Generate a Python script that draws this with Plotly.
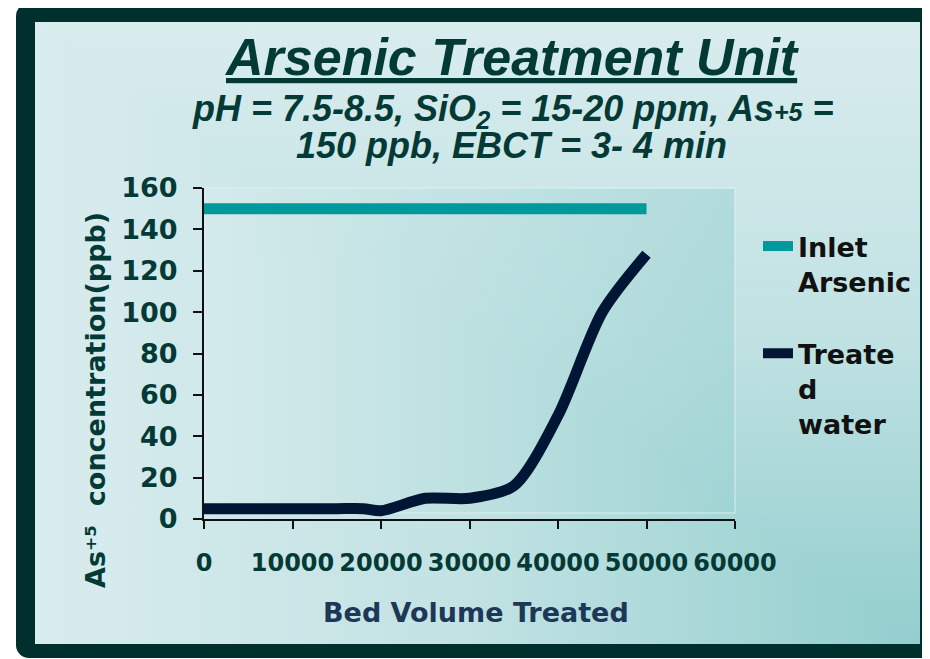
import base64
import plotly.graph_objects as go

# ---------------- data ----------------
bed_volume_inlet = [0, 50000]
inlet_arsenic = [150, 150]

bed_volume_treated = [0, 11000, 15000, 18000, 20000, 25000, 30000, 35000, 40000, 45000, 50000]
treated_water = [5, 5, 5, 5, 4, 10, 10, 16, 50, 100, 128]

x_ticks = [0, 10000, 20000, 30000, 40000, 50000, 60000]
y_ticks = [0, 20, 40, 60, 80, 100, 120, 140, 160]

series_names = ["Inlet<br>Arsenic", "Treate<br>d<br>water"]
title_text = "Arsenic Treatment Unit"
subtitle_1 = ("pH = 7.5-8.5, SiO<sub>2</sub> = 15-20 ppm, "
              "As<span style=\"font-size:25px\">+5</span> =")
subtitle_2 = "150 ppb, EBCT = 3- 4 min"
x_title = "Bed Volume Treated"
y_title = "As\u207a\u2075\u00a0\u00a0concentration(ppb)"

# ---------------- layout geometry ----------------
OFF = 8                      # page body margin
W, H = 930 - OFF, 659 - OFF  # figure size
L, T = 204 - OFF, 188 - OFF
PW, PH = 531, 331
R = W - L - PW
B = H - T - PH


def px(x):  # reference pixel x -> paper
    return (x - OFF - L) / PW


def py(y):  # reference pixel y -> paper
    return (T + PH - (y - OFF)) / PH


def f(v):
    return v - OFF


DARK = "#00302E"
TEXT = "#033a35"

svg = f'''<svg xmlns="http://www.w3.org/2000/svg" width="{W}" height="{H}" viewBox="0 0 {W} {H}" preserveAspectRatio="none">
<defs>
<linearGradient id="gx" x1="0" y1="0" x2="1" y2="0">
<stop offset="0" stop-color="#D9ECEE"/><stop offset="0.5" stop-color="#C1E2E3"/><stop offset="1" stop-color="#93CECE"/></linearGradient>
<linearGradient id="gy" x1="0" y1="0" x2="0" y2="1">
<stop offset="0" stop-color="#D9ECEE"/><stop offset="0.5" stop-color="#C1E2E3"/><stop offset="1" stop-color="#93CECE"/></linearGradient>
<linearGradient id="pa" x1="0" y1="0" x2="1" y2="0">
<stop offset="0" stop-color="#D9EDEE"/><stop offset="1" stop-color="#9DD3D3"/></linearGradient>
</defs>
<rect width="{W}" height="{H}" fill="#ffffff"/>
<rect x="{f(16)}" y="{f(3)}" width="960" height="655" rx="13" ry="13" fill="{DARK}"/>
<g style="isolation:isolate">
<rect x="{f(35)}" y="{f(22)}" width="885" height="622" fill="url(#gx)"/>
<rect x="{f(35)}" y="{f(22)}" width="885" height="622" fill="url(#gy)" style="mix-blend-mode:lighten"/>
</g>
<rect x="{f(205)}" y="{f(188)}" width="530" height="325" fill="url(#pa)" opacity="0.55" stroke="#E2F2F3" stroke-width="1.5"/>
</svg>'''
svg_uri = "data:image/svg+xml;base64," + base64.b64encode(svg.encode()).decode()

fig = go.Figure()

fig.add_trace(go.Scatter(
    x=bed_volume_inlet, y=inlet_arsenic, mode="lines", name=series_names[0],
    line=dict(color="#009999", width=11), legendgroup="a",
))
fig.add_trace(go.Scatter(
    x=bed_volume_treated, y=treated_water, mode="lines", name=series_names[1],
    line=dict(color="#001634", width=11, shape="spline", smoothing=0.8), legendgroup="b",
))

fig.update_layout(
    width=W, height=H, autosize=False,
    margin=dict(l=L, r=R, t=T, b=B, pad=0),
    paper_bgcolor="#ffffff", plot_bgcolor="rgba(0,0,0,0)",
    showlegend=True,
    legend=dict(
        x=px(758), y=py(222), xanchor="left", yanchor="top",
        bgcolor="rgba(0,0,0,0)", font=dict(family="DejaVu Sans", size=27, color="#111111", weight="bold"),
        valign="top", tracegroupgap=34, traceorder="grouped", borderwidth=0,
    ),
    xaxis=dict(
        range=[0, 60000], tickvals=x_ticks, ticktext=[str(v) for v in x_ticks], tickangle=0,
        showline=True, linecolor="#111111", linewidth=2, mirror=False,
        ticks="outside", ticklen=8, tickwidth=2, tickcolor="#111111",
        showgrid=False, zeroline=False, automargin=False,
        tickfont=dict(family="DejaVu Sans", size=24, color=TEXT, weight="bold"),
        ticklabelstandoff=13,
    ),
    yaxis=dict(
        range=[0, 160], tickvals=y_ticks, ticktext=[str(v) for v in y_ticks],
        showline=True, linecolor="#111111", linewidth=2, mirror=False,
        ticks="outside", ticklen=9, tickwidth=2, tickcolor="#111111",
        showgrid=False, zeroline=False, automargin=False,
        tickfont=dict(family="DejaVu Sans", size=27, color=TEXT, weight="bold"),
        ticklabelstandoff=10,
    ),
    images=[dict(
        source=svg_uri, xref="paper", yref="paper",
        x=-L / PW, y=(T + PH) / PH, sizex=W / PW, sizey=H / PH,
        xanchor="left", yanchor="top", sizing="stretch", layer="below",
    )],
    annotations=[
        dict(text=f"<u>{title_text}</u>", x=px(512), y=py(57), xref="paper", yref="paper",
             showarrow=False, xanchor="center", yanchor="middle",
             font=dict(family="Liberation Sans, Arial", size=52, color=TEXT, weight="bold", style="italic")),
        dict(text=subtitle_1, x=px(512), y=py(111), xref="paper", yref="paper",
             showarrow=False, xanchor="center", yanchor="middle",
             font=dict(family="Liberation Sans, Arial", size=36, color=TEXT, weight="bold", style="italic")),
        dict(text=subtitle_2, x=px(511), y=py(145), xref="paper", yref="paper",
             showarrow=False, xanchor="center", yanchor="middle",
             font=dict(family="Liberation Sans, Arial", size=36, color=TEXT, weight="bold", style="italic")),
        dict(text=x_title, x=px(476), y=py(612), xref="paper", yref="paper",
             showarrow=False, xanchor="center", yanchor="middle",
             font=dict(family="DejaVu Sans", size=27, color="#1d3757", weight="bold")),
        dict(text=y_title, x=px(95), y=py(400), xref="paper", yref="paper", textangle=-90,
             showarrow=False, xanchor="center", yanchor="middle",
             font=dict(family="DejaVu Sans", size=27, color=TEXT, weight="bold")),
    ],
)

fig.write_html("out.html")
